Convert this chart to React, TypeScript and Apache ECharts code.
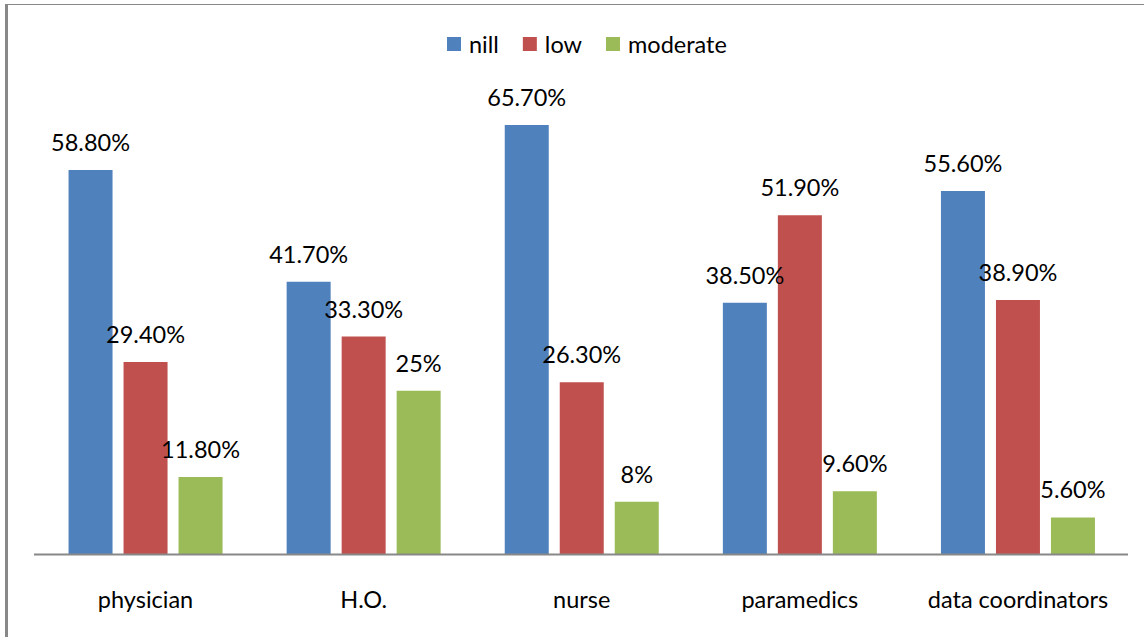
import React, { useEffect, useRef } from "react";
import * as echarts from "echarts";

const categories = ["physician", "H.O.", "nurse", "paramedics", "data coordinators"];
const seriesNames = ["nill", "low", "moderate"];
const nillValues = [58.8, 41.7, 65.7, 38.5, 55.6];
const lowValues = [29.4, 33.3, 26.3, 51.9, 38.9];
const moderateValues = [11.8, 25, 8, 9.6, 5.6];
const colors = ["#4F81BD", "#C0504D", "#9BBB59"];

const FONT = "Lato, 'Open Sans', sans-serif";
const FS = 23.5;

const fmt = (v: number) => (Number.isInteger(v) ? `${v}%` : `${v.toFixed(2)}%`);

export default function App() {
  const ref = useRef<HTMLDivElement>(null);

  useEffect(() => {
    if (!ref.current) return;
    const chart = echarts.init(ref.current, undefined, { renderer: "svg" });
    const values = [nillValues, lowValues, moderateValues];
    chart.setOption({
      animation: false,
      backgroundColor: "#ffffff",
      textStyle: { fontFamily: FONT },
      legend: {
        data: seriesNames,
        left: 442,
        top: 27,
        itemWidth: 14,
        itemHeight: 14,
        itemGap: 24,
        icon: "rect",
        textStyle: { fontFamily: FONT, fontSize: FS, color: "#000", padding: [0, 0, 0, 3] },
      },
      grid: { left: 36.5, right: 17, top: 97, bottom: 83 },
      xAxis: {
        type: "category",
        data: categories,
        axisLine: { show: false },
        axisTick: { show: false },
        axisLabel: { fontFamily: FONT, fontSize: FS, color: "#000", margin: 33, interval: 0 },
      },
      yAxis: {
        type: "value",
        min: 0,
        max: 70,
        show: false,
        splitLine: { show: false },
      },
      graphic: [
        // frame edges
        { type: "rect", shape: { x: 5, y: 4, width: 3, height: 633 }, style: { fill: "#888888" } },
        { type: "line", shape: { x1: 5, y1: 4.5, x2: 1144, y2: 4.5 }, style: { stroke: "#888888", lineWidth: 1 } },
        // category axis baseline
        { type: "line", z: 10, shape: { x1: 34, y1: 554.5, x2: 1128, y2: 554.5 }, style: { stroke: "#888888", lineWidth: 2 } },
      ],
      series: seriesNames.map((name, i) => ({
        name,
        type: "bar",
        data: values[i],
        barWidth: 44,
        barGap: "25%",
        itemStyle: { color: colors[i] },
        label: {
          show: true,
          position: "top",
          distance: 16,
          fontFamily: FONT,
          fontSize: FS,
          color: "#000",
          formatter: (p: any) => fmt(p.value),
        },
      })),
    });
    return () => chart.dispose();
  }, []);

  return (
    <div
      ref={ref}
      style={{ position: "fixed", left: 0, top: 0, width: 1144, height: 637 }}
    />
  );
}
